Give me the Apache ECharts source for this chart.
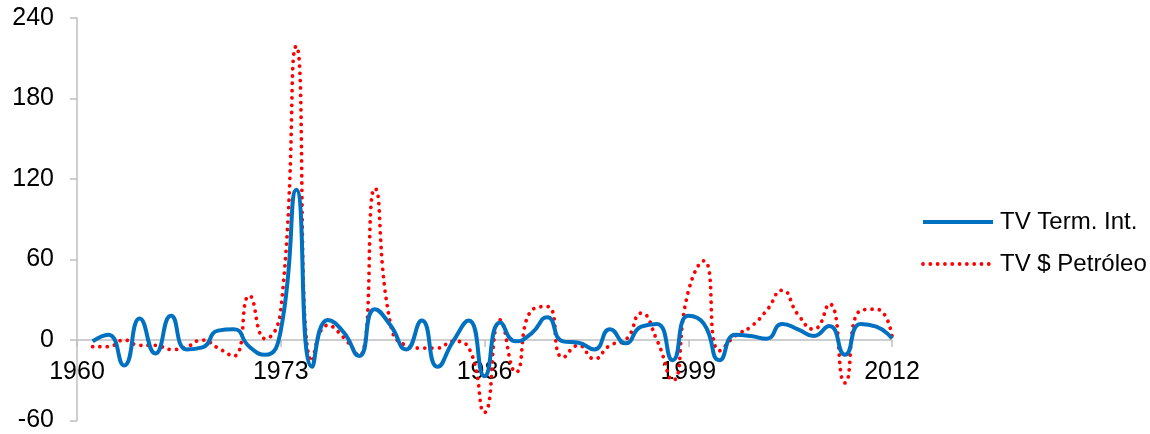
<!DOCTYPE html>
<html>
<head>
<meta charset="utf-8">
<script src="https://cdn.jsdelivr.net/npm/echarts@6/dist/echarts.min.js"></script>
<style>
html,body{margin:0;padding:0;background:#fff;}
#c{width:1150px;height:434px;}
</style>
</head>
<body>
<div id="c"></div>
<script>
var years = [];
for (var y = 1960; y <= 2012; y++) years.push(String(y));

var tvTermInt = [null,
  -1, 4, -19, 16, -10, 18, -7, -5.5, 7, 8,
  -5, -11, 7, 112, -20, 15, 6, -12, 23, 11,
  -7, 14.5, -20, -1, 14.5, -27, 13, -1, 5, 17,
  -1, -2, -7, 8, -2.5, 10, 12, -15, 18, 12,
  -15, 4, 3, 1, 12, 8, 3, 10.5, -11, 12,
  10, 1];

var tvPetroleo = [null,
  -5, -5, 0, -4, -4, -7, -5, 0, -6, -12,
  33, 1, 22, 219, -16, 11, 2, -12, 113, 12,
  -4, -6, -6, -1, -6, -54, 15, -24, 22, 25,
  -13, -4, -14, -4, 0, 20, 0, -30, 36, 59,
  -8, 3, 10, 22, 37, 19, 8, 27, -32, 22,
  23, 3];

var yTicks = [-60, 0, 60, 120, 180, 240];

var blueStyle = {color: '#0070C0', width: 4};
var redStyle = {color: '#FF0000', width: 3.8, type: [0.01, 7.3], cap: 'round'};

var chart = echarts.init(document.getElementById('c'));
var font = "'Liberation Sans', Arial, sans-serif";
chart.setOption({
  animation: false,
  textStyle: {fontFamily: font},
  grid: {left: 77, right: 258, top: 18, bottom: 13.5, containLabel: false, outerBoundsMode: 'none'},
  legend: {
    orient: 'vertical',
    left: 921, top: 210, padding: 0,
    itemWidth: 70, itemHeight: 24, itemGap: 18,
    itemStyle: {opacity: 0},
    textStyle: {fontSize: 24, color: '#000', fontFamily: font, padding: [0, 0, 0, 2]},
    data: [
      {name: 'TV Term. Int.', lineStyle: blueStyle},
      {name: 'TV $ Petróleo', lineStyle: redStyle}
    ]
  },
  xAxis: {
    type: 'category',
    data: years,
    boundaryGap: false,
    offset: -80.5,
    axisLine: {onZero: false, lineStyle: {color: '#bfbfbf', width: 1.5}},
    axisTick: {show: true, interval: 12, length: 7, lineStyle: {color: '#bfbfbf', width: 1.5}},
    axisLabel: {interval: 12, fontSize: 25, color: '#000', margin: 20, fontFamily: font},
    splitLine: {show: false}
  },
  yAxis: {
    type: 'value',
    min: yTicks[0], max: yTicks[yTicks.length - 1], interval: 60,
    axisLine: {show: true, lineStyle: {color: '#bfbfbf', width: 1.5}},
    axisTick: {show: true, length: 7, lineStyle: {color: '#bfbfbf', width: 1.5}},
    axisLabel: {fontSize: 25, color: '#000', margin: 23, fontFamily: font},
    splitLine: {show: false}
  },
  series: [
    {
      name: 'TV Term. Int.', type: 'line', data: tvTermInt,
      smooth: 0.55, symbol: 'none',
      lineStyle: blueStyle,
      itemStyle: {color: '#0070C0'}, z: 3
    },
    {
      name: 'TV $ Petróleo', type: 'line', data: tvPetroleo,
      smooth: 0.55, symbol: 'none',
      lineStyle: redStyle,
      itemStyle: {color: '#FF0000'}, z: 2
    }
  ]
});
</script>
</body>
</html>
